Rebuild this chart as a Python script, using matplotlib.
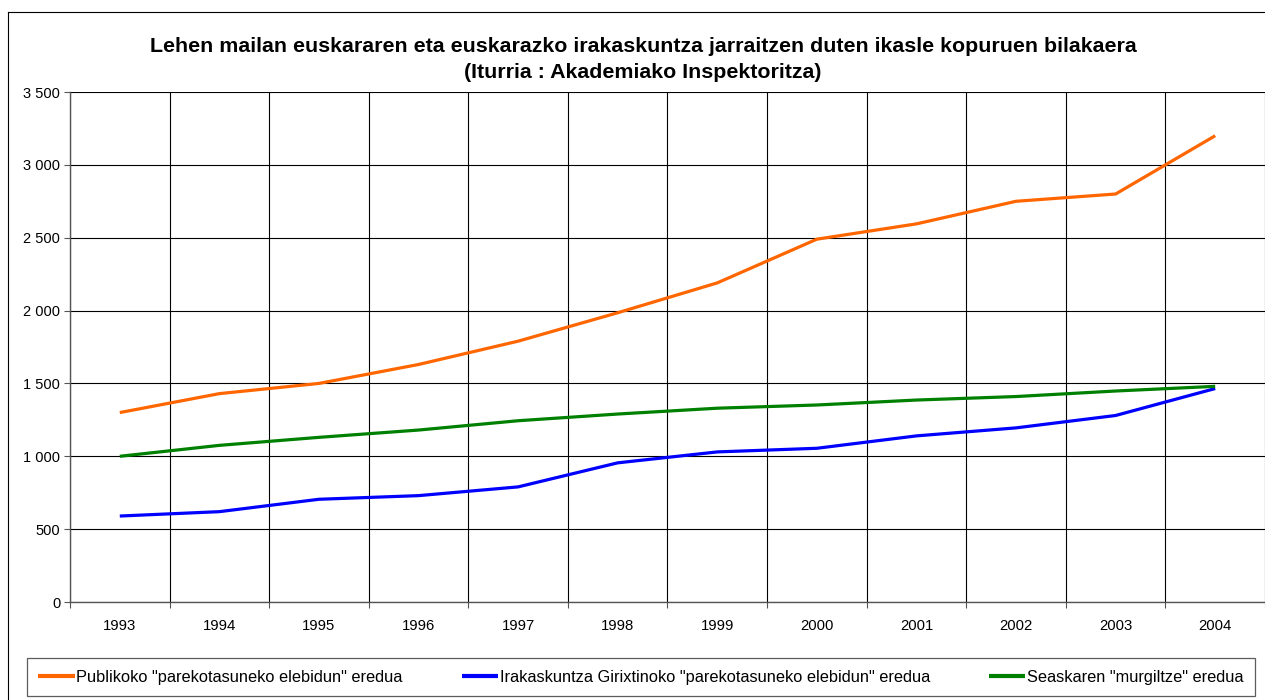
import matplotlib
matplotlib.use("Agg")
import matplotlib.pyplot as plt
from matplotlib.lines import Line2D
from matplotlib.ticker import FuncFormatter

plt.rcParams['font.family'] = ['Liberation Sans', 'DejaVu Sans']

#---------------Data---------------
years = ['1993', '1994', '1995', '1996', '1997', '1998',
         '1999', '2000', '2001', '2002', '2003', '2004']
publikoa = [1300, 1430, 1500, 1630, 1790, 1985, 2190, 2490, 2595, 2750, 2800, 3200]
girixtinoa = [590, 620, 705, 730, 790, 955, 1030, 1055, 1140, 1195, 1280, 1465]
seaska = [1000, 1075, 1130, 1180, 1244, 1290, 1330, 1352, 1386, 1410, 1448, 1480]

labels = ['Publikoko "parekotasuneko elebidun" eredua',
          'Irakaskuntza Girixtinoko "parekotasuneko elebidun" eredua',
          'Seaskaren "murgiltze" eredua']
colors = ['#FF6600', '#0000FF', '#008000']

title1 = 'Lehen mailan euskararen eta euskarazko irakaskuntza jarraitzen duten ikasle kopuruen bilakaera'
title2 = '(Iturria : Akademiako Inspektoritza)'

#---------------Plot---------------
W, H = 1265, 700
fig = plt.figure(figsize=(W / 100, H / 100), dpi=100)
ax = fig.add_axes([70 / W, 98 / H, (W - 70) / W, 510 / H])

x = list(range(len(years)))
for vals, lab, col in zip([publikoa, girixtinoa, seaska], labels, colors):
    ax.plot(x, vals, color=col, lw=2.3, label=lab, solid_capstyle='butt')

ax.set_xlim(-0.5, len(years) - 0.5)
ax.set_ylim(0, 3500)
ax.set_yticks(range(0, 3501, 500))
ax.yaxis.set_major_formatter(FuncFormatter(lambda v, p: f'{int(v):,}'.replace(',', ' ')))

# year boundaries carry the grid, labels sit between them
ax.set_xticks([i - 0.5 for i in range(len(years) + 1)])
ax.set_xticklabels([])
ax.set_xticks(x, minor=True)
ax.set_xticklabels(years, minor=True)
ax.tick_params(axis='x', which='minor', length=0, pad=12, labelsize=10.7)
ax.tick_params(axis='x', which='major', length=4, width=0.8, color='#555555')
ax.tick_params(axis='y', length=4, width=0.8, color='#555555', labelsize=10.5, pad=3)

ax.grid(True, which='major', color='black', lw=0.8)
ax.set_axisbelow(True)
for s in ['top', 'right']:
    ax.spines[s].set_visible(False)
for s in ['left', 'bottom']:
    ax.spines[s].set_color('#555555')
    ax.spines[s].set_linewidth(1.0)

fig.text(643 / W, 1 - 46 / H, title1, ha='center', va='center', fontsize=15.4, fontweight='bold')
fig.text(643 / W, 1 - 73 / H, title2, ha='center', va='center', fontsize=15.4, fontweight='bold')

# outer chart border
fig.add_artist(Line2D([8 / W, 8 / W], [0, 1 - 12 / H], color='black', lw=0.8, transform=fig.transFigure))
fig.add_artist(Line2D([8 / W, 1], [1 - 12 / H, 1 - 12 / H], color='black', lw=0.8, transform=fig.transFigure))

leg = fig.legend(loc='lower left', bbox_to_anchor=(27 / W, 4 / H, 1228 / W, 40 / H),
                 mode='expand', ncol=3, fontsize=11.8, frameon=True, fancybox=False,
                 edgecolor='#333333', handlelength=2.2, handletextpad=0.1,
                 borderpad=0.7, borderaxespad=0)
leg.get_frame().set_linewidth(0.9)
for h in leg.get_lines():
    h.set_linewidth(3)

fig.savefig('out.png', dpi=100)
